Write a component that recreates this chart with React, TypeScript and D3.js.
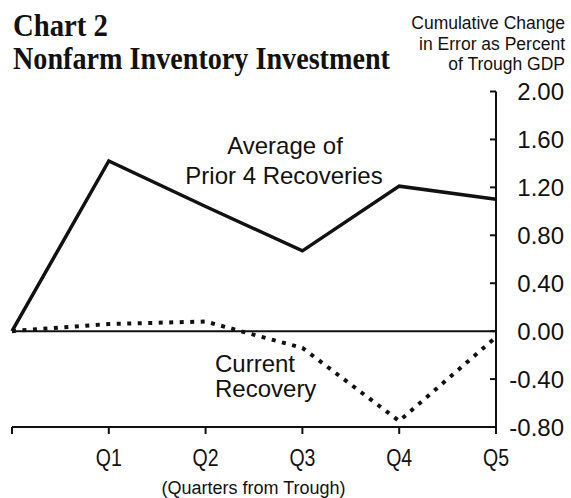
import * as d3 from 'd3'

const quarters = [0, 1, 2, 3, 4, 5]
const quarterLabels = ['', 'Q1', 'Q2', 'Q3', 'Q4', 'Q5']
const priorAverage = [0, 1.42, 1.04, 0.67, 1.21, 1.1]
const currentRecovery = [0, 0.06, 0.08, -0.14, -0.75, -0.05]
const yTicks = [2, 1.6, 1.2, 0.8, 0.4, 0, -0.4, -0.8]
const unitLines = ['Cumulative Change', 'in Error as Percent', 'of Trough GDP']

const width = 571
const height = 498
const sans = 'Liberation Sans, Arial, Helvetica, sans-serif'
const serif = 'Liberation Serif, Times New Roman, serif'

export default function App() {
  const x = d3.scaleLinear([0, 5], [12, 496])
  const y = d3.scaleLinear([-0.8, 2], [427, 91.5])

  const line = d3
    .line<number>()
    .x((d, i) => x(quarters[i]))
    .y((d) => y(d))

  const [x0, x1] = x.range()

  return (
    <svg
      width={width}
      height={height}
      viewBox={`0 0 ${width} ${height}`}
      style={{ position: 'absolute', left: 0, top: 0, background: '#fff' }}
    >
      <rect width={width} height={height} fill="#fff" />

      {/* title */}
      <g fontFamily={serif} fontWeight="bold" fill="#111">
        <text x={13} y={36} fontSize={31} textLength={95} lengthAdjust="spacingAndGlyphs">
          Chart 2
        </text>
        <text x={13} y={69} fontSize={31} textLength={377} lengthAdjust="spacingAndGlyphs">
          Nonfarm Inventory Investment
        </text>
      </g>

      {/* units note */}
      <g fontFamily={sans} fontSize={17.5} fill="#111" textAnchor="end">
        {unitLines.map((s, i) => (
          <text key={s} x={565} y={29 + i * 20.5}>
            {s}
          </text>
        ))}
      </g>

      {/* zero line and bottom axis */}
      <line x1={x0} x2={x1} y1={y(0)} y2={y(0)} stroke="#111" strokeWidth={2} />
      <line x1={x0} x2={x1} y1={y(-0.8)} y2={y(-0.8)} stroke="#111" strokeWidth={2} />
      {quarters.map((q) => (
        <line key={q} x1={x(q)} x2={x(q)} y1={y(-0.8)} y2={y(-0.8) + 7} stroke="#111" strokeWidth={2} />
      ))}
      <g fontFamily={sans} fontSize={23.5} fill="#111">
        {quarters.map((q, i) =>
          quarterLabels[i] ? (
            <text key={q} x={x(q) - 13} y={466} textLength={26} lengthAdjust="spacingAndGlyphs">
              {quarterLabels[i]}
            </text>
          ) : null
        )}
        <text x={253.5} y={494} fontSize={18} textAnchor="middle">
          (Quarters from Trough)
        </text>
      </g>

      {/* right axis */}
      <line x1={x1} x2={x1} y1={y(2)} y2={y(-0.8) + 7} stroke="#111" strokeWidth={2} />
      {yTicks.map((t) => (
        <line key={t} x1={x1 - 6} x2={x1} y1={y(t)} y2={y(t)} stroke="#111" strokeWidth={2} />
      ))}
      <g fontFamily={sans} fontSize={24} fill="#111" textAnchor="end">
        {yTicks.map((t) => (
          <text key={t} x={564} y={y(t)} dy="0.36em">
            {d3.format('.2f')(t).replace('−', '-')}
          </text>
        ))}
      </g>

      {/* series */}
      <path d={line(priorAverage) || undefined} fill="none" stroke="#111" strokeWidth={3.5} strokeLinejoin="miter" />
      <path
        d={line(currentRecovery) || undefined}
        fill="none"
        stroke="#111"
        strokeWidth={4}
        strokeDasharray="4 6.5"
      />

      {/* series labels */}
      <g fontFamily={sans} fontSize={24} fill="#111">
        <text x={285} y={154} textAnchor="middle">Average of</text>
        <text x={284} y={184} textAnchor="middle">Prior 4 Recoveries</text>
        <text x={215} y={372}>Current</text>
        <text x={215} y={397}>Recovery</text>
      </g>
    </svg>
  )
}
